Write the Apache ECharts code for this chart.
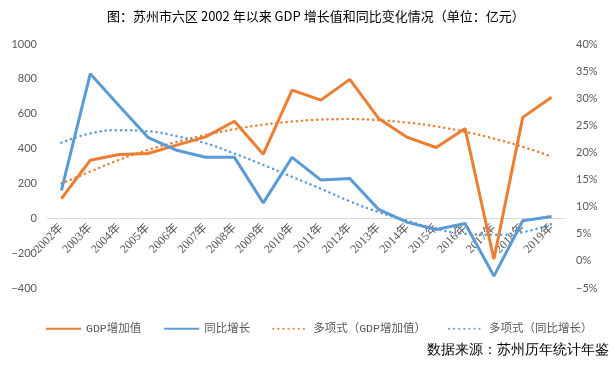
<!DOCTYPE html>
<html><head><meta charset="utf-8">
<script src="https://cdn.jsdelivr.net/npm/echarts@6/dist/echarts.min.js"></script>
<style>html,body{margin:0;padding:0;background:#fff}#c{width:616px;height:372px}</style>
</head><body><div id="c"></div>
<script>
var years = ['2002年','2003年','2004年','2005年','2006年','2007年','2008年','2009年','2010年','2011年','2012年','2013年','2014年','2015年','2016年','2017年','2018年','2019年'];
var gdpAdded = [113, 333, 366, 372, 420, 467, 557, 368, 735, 678, 797, 573, 464, 406, 515, -235, 579, 694];
var yoyGrowth = [13.0, 34.5, 28.6, 22.8, 20.4, 19.1, 19.1, 10.7, 19.1, 14.9, 15.2, 9.5, 7.1, 5.8, 6.9, -2.8, 7.4, 8.2];
var gdpTrend = [199, 268, 335, 392, 438, 478, 511, 537, 555, 566, 569, 563, 549, 527, 496, 457, 410, 354];
var yoyTrend = [21.8, 23.5, 24.1, 23.9, 23.0, 21.7, 19.8, 17.7, 15.5, 13.3, 11.0, 9.0, 7.4, 5.9, 5.0, 4.8, 5.3, 6.8];
var seriesNames = ['GDP增加值', '同比增长', '多项式（GDP增加值）', '多项式（同比增长）'];
var titleText = '图：苏州市六区 2002 年以来 GDP 增长值和同比变化情况（单位：亿元）';
var sourceText = '数据来源：苏州历年统计年鉴';

var ORANGE = '#ED7D31', BLUE = '#5B9BD5';
var numFont = 'Lato, "Noto Sans", "Noto Sans CJK SC", sans-serif';
var chart = echarts.init(document.getElementById('c'), null, {renderer: 'canvas'});
function minus(s){ return String(s).replace('-', '−'); }
chart.setOption({
  animation: false,
  backgroundColor: '#fff',
  title: {
    text: titleText, left: 102, top: 5,
    textStyle: {fontSize: 13, fontWeight: 'normal', color: '#000', fontFamily: '"Noto Sans CJK SC", sans-serif'}
  },
  legend: {
    data: seriesNames, left: 40, top: 318, width: 600, itemWidth: 35, itemHeight: 12, itemGap: 22,
    itemStyle: {opacity: 0},
    textStyle: {fontSize: 11.5, color: '#595959', fontFamily: '"Liberation Mono", "Noto Sans CJK SC", monospace'}
  },
  graphic: [{
    type: 'text', right: 7, top: 343,
    style: {text: sourceText, fontSize: 14, fill: '#000', font: '14px "Noto Sans CJK SC", sans-serif'}
  }],
  grid: {left: 47, right: 50, top: 44, bottom: 84},
  xAxis: {
    type: 'category', data: years, boundaryGap: true, position: 'bottom', offset: -70,
    axisLine: {onZero: false, lineStyle: {color: '#D9D9D9', width: 1}},
    axisTick: {show: false},
    axisLabel: {rotate: 45, margin: 8, fontSize: 12, color: '#595959', fontFamily: '"Liberation Serif", "Noto Sans CJK SC", serif', interval: 0}
  },
  yAxis: [{
    type: 'value', min: -400, max: 1000, interval: 200,
    axisLine: {show: false}, axisTick: {show: false}, splitLine: {show: false},
    axisLabel: {margin: 10, fontSize: 11, color: '#595959', fontFamily: numFont, formatter: function(v){ return minus(v); }}
  }, {
    type: 'value', min: -5, max: 40, interval: 5, position: 'right',
    axisLine: {show: false}, axisTick: {show: false}, splitLine: {show: false},
    axisLabel: {margin: 10, fontSize: 11, color: '#595959', fontFamily: numFont, formatter: function(v){ return minus(v) + '%'; }}
  }],
  series: [{
    name: seriesNames[0], type: 'line', data: gdpAdded, yAxisIndex: 0, symbol: 'none',
    lineStyle: {color: ORANGE, width: 3}, itemStyle: {color: ORANGE}, z: 3
  }, {
    name: seriesNames[1], type: 'line', data: yoyGrowth, yAxisIndex: 1, symbol: 'none',
    lineStyle: {color: BLUE, width: 3}, itemStyle: {color: BLUE}, z: 3
  }, {
    name: seriesNames[2], type: 'line', data: gdpTrend, yAxisIndex: 0, symbol: 'none', smooth: true,
    lineStyle: {color: ORANGE, width: 2.5, type: [0.1, 5], cap: 'round'}, itemStyle: {color: ORANGE}, z: 2
  }, {
    name: seriesNames[3], type: 'line', data: yoyTrend, yAxisIndex: 1, symbol: 'none', smooth: true,
    lineStyle: {color: BLUE, width: 2.5, type: [0.1, 5], cap: 'round'}, itemStyle: {color: BLUE}, z: 2
  }]
});
</script></body></html>
